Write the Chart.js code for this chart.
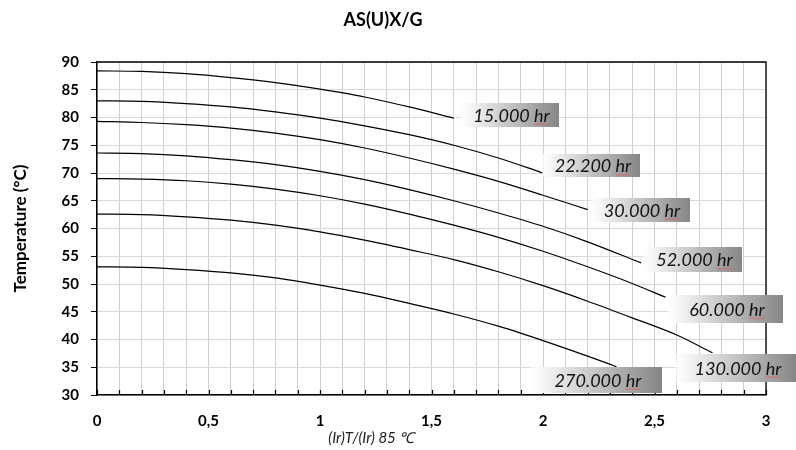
<!DOCTYPE html>
<html>
<head>
<meta charset="utf-8">
<title>AS(U)X/G</title>
<script src="https://cdn.jsdelivr.net/npm/chart.js@4.4.1/dist/chart.umd.min.js"></script>
<style>
  html, body { margin: 0; padding: 0; background: #fff; }
</style>
</head>
<body>
<canvas id="lifeChart" width="796" height="450"></canvas>
<script>
// Life curves: temperature vs. ripple current ratio (Ir)T/(Ir)85°C
const seriesNames = ['15.000 hr', '22.200 hr', '30.000 hr', '52.000 hr', '60.000 hr', '130.000 hr', '270.000 hr'];

const x15 = [0, 0.2, 0.4, 0.6, 0.8, 1.0, 1.2, 1.4, 1.6];
const t15 = [88.4, 88.3, 87.9, 87.2, 86.3, 85.1, 83.7, 81.9, 79.9];

const x22 = [0, 0.2, 0.4, 0.6, 0.8, 1.0, 1.2, 1.4, 1.6, 1.8, 2.0];
const t22 = [83.0, 82.9, 82.5, 81.9, 81.0, 79.9, 78.5, 76.9, 75.0, 72.7, 70.0];

const x30 = [0, 0.2, 0.4, 0.6, 0.8, 1.0, 1.2, 1.4, 1.6, 1.8, 2.0, 2.2];
const t30 = [79.3, 79.1, 78.7, 78.1, 77.2, 76.0, 74.5, 72.7, 70.7, 68.5, 66.0, 63.4];

const x52 = [0, 0.2, 0.4, 0.6, 0.8, 1.0, 1.2, 1.4, 1.6, 1.8, 2.0, 2.2, 2.44];
const t52 = [73.6, 73.5, 73.1, 72.4, 71.5, 70.3, 68.8, 67.0, 65.0, 62.8, 60.4, 57.6, 53.8];

const x60 = [0, 0.2, 0.4, 0.6, 0.8, 1.0, 1.2, 1.4, 1.6, 1.8, 2.0, 2.2, 2.4, 2.55];
const t60 = [69.0, 68.9, 68.6, 68.0, 67.1, 65.9, 64.4, 62.6, 60.6, 58.4, 55.9, 53.1, 50.1, 47.6];

const x130 = [0, 0.2, 0.4, 0.6, 0.8, 1.0, 1.2, 1.4, 1.6, 1.8, 2.0, 2.2, 2.4, 2.6, 2.76];
const t130 = [62.6, 62.5, 62.1, 61.5, 60.6, 59.4, 57.9, 56.2, 54.4, 52.2, 49.7, 46.9, 43.9, 40.8, 37.6];

const x270 = [0, 0.2, 0.4, 0.6, 0.8, 1.0, 1.2, 1.4, 1.6, 1.8, 2.0, 2.2, 2.33];
const t270 = [53.1, 53.0, 52.6, 52.0, 51.1, 49.8, 48.3, 46.5, 44.6, 42.4, 39.8, 37.0, 35.1];

const xSeries = [x15, x22, x30, x52, x60, x130, x270];
const tSeries = [t15, t22, t30, t52, t60, t130, t270];

const FONT = 'Lato, "Open Sans", sans-serif';

// label box placement relative to the last point of each curve
const labelBoxes = [
    { dx: 6,   dy: -15, w: 99,  h: 24 },
    { dx: -1,  dy: -19, w: 98,  h: 23 },
    { dx: 2,   dy: -12, w: 100, h: 24 },
    { dx: 2,   dy: -16, w: 99,  h: 25 },
    { dx: 1,   dy: -2,  w: 116, h: 28 },
    { dx: -37, dy: 1,   w: 122, h: 28 },
    { dx: -87, dy: 0,   w: 132, h: 26 }
];

const datasets = seriesNames.map((name, i) => ({
    label: name,
    data: xSeries[i].map((x, j) => ({ x: x, y: tSeries[i][j] })),
    borderColor: '#000',
    borderWidth: 1.2,
    pointRadius: 0,
    fill: false,
    tension: 0.4,
    cubicInterpolationMode: 'monotone'
}));

// top/right frame, inner ticks on x axis, x axis title
const framePlugin = {
    id: 'frame',
    afterDatasetsDraw(chart) {
        const ctx = chart.ctx;
        const area = chart.chartArea;
        const xs = chart.scales.x;
        ctx.save();
        ctx.strokeStyle = '#000';
        ctx.lineWidth = 1.3;
        ctx.beginPath();
        ctx.moveTo(area.left, area.top);
        ctx.lineTo(area.right, area.top);
        ctx.lineTo(area.right, area.bottom);
        ctx.stroke();

        ctx.lineWidth = 1.2;
        ctx.beginPath();
        xs.ticks.forEach(t => {
            const px = Math.round(xs.getPixelForValue(t.value)) + 0.5;
            ctx.moveTo(px, area.bottom);
            ctx.lineTo(px, area.bottom - 5);
        });
        ctx.stroke();

        ctx.fillStyle = '#222';
        ctx.font = 'italic 15px ' + FONT;
        ctx.textAlign = 'center';
        ctx.textBaseline = 'middle';
        ctx.fillText('(Ir)T/(Ir) 85 \u2103', xs.getPixelForValue(1.23), 438);
        ctx.restore();
    }
};

const labelPlugin = {
    id: 'hourLabels',
    afterDraw(chart) {
        const ctx = chart.ctx;
        ctx.save();
        chart.data.datasets.forEach((ds, i) => {
            const pts = chart.getDatasetMeta(i).data;
            const end = pts[pts.length - 1];
            const b = labelBoxes[i];
            const x0 = Math.round(end.x + b.dx);
            const y0 = Math.round(end.y + b.dy);

            const g = ctx.createLinearGradient(x0, 0, x0 + b.w, 0);
            g.addColorStop(0, 'rgba(255,255,255,0.6)');
            g.addColorStop(0.08, '#f8f8f8');
            g.addColorStop(1, '#868686');
            ctx.fillStyle = g;
            ctx.fillRect(x0, y0, b.w, b.h);

            ctx.font = 'italic 18px ' + FONT;
            ctx.fillStyle = '#111';
            ctx.textAlign = 'center';
            ctx.textBaseline = 'middle';
            const cx = x0 + b.w / 2 + 2;
            const cy = y0 + b.h / 2 + 1;
            ctx.fillText(ds.label, cx, cy);

            // spell-check squiggle under "hr"
            const full = ctx.measureText(ds.label).width;
            const hr = ctx.measureText('hr').width;
            const sx = cx + full / 2 - hr;
            const sy = cy + 8;
            ctx.strokeStyle = '#e05a5a';
            ctx.lineWidth = 0.8;
            ctx.beginPath();
            for (let k = 0; k <= hr; k += 1.5) {
                const yy = sy + ((Math.round(k / 1.5) % 2) ? 0.8 : -0.4);
                if (k === 0) ctx.moveTo(sx + k, yy); else ctx.lineTo(sx + k, yy);
            }
            ctx.stroke();
        });
        ctx.restore();
    }
};

new Chart(document.getElementById('lifeChart'), {
    type: 'line',
    data: { datasets: datasets },
    plugins: [framePlugin, labelPlugin],
    options: {
        responsive: false,
        animation: false,
        events: [],
        layout: { padding: { left: 0, right: 30, top: 0, bottom: 0 } },
        plugins: {
            legend: { display: false },
            tooltip: { enabled: false },
            title: {
                display: true,
                text: 'AS(U)X/G',
                color: '#000',
                font: { family: FONT, size: 18, weight: 'bold' },
                padding: { top: 9, bottom: 31.4 }
            }
        },
        scales: {
            x: {
                type: 'linear',
                min: 0,
                max: 3,
                ticks: {
                    stepSize: 0.1,
                    autoSkip: false,
                    maxRotation: 0,
                    padding: 17,
                    color: '#000',
                    font: { family: FONT, size: 15, weight: 'bold' },
                    callback: (v) => {
                        const h = v * 2;
                        if (Math.abs(h - Math.round(h)) > 1e-6) return '';
                        return String(Math.round(h) / 2).replace('.', ',');
                    }
                },
                grid: { color: '#cfcfcf', drawTicks: false },
                border: { color: '#000', width: 1.5 },
                afterFit: (s) => { s.height = 55; }
            },
            y: {
                min: 30,
                max: 90,
                ticks: {
                    stepSize: 5,
                    padding: 12,
                    color: '#000',
                    font: { family: FONT, size: 15, weight: 'bold' }
                },
                grid: { color: '#d9d9d9', tickLength: 6, tickColor: '#000' },
                border: { color: '#000', width: 1.5 },
                title: {
                    display: true,
                    text: 'Temperature (°C)',
                    color: '#000',
                    font: { family: FONT, size: 17, weight: 'bold' },
                    padding: { top: 10, bottom: 0 }
                },
                afterFit: (s) => { s.width = 97; }
            }
        }
    }
});
</script>
</body>
</html>
